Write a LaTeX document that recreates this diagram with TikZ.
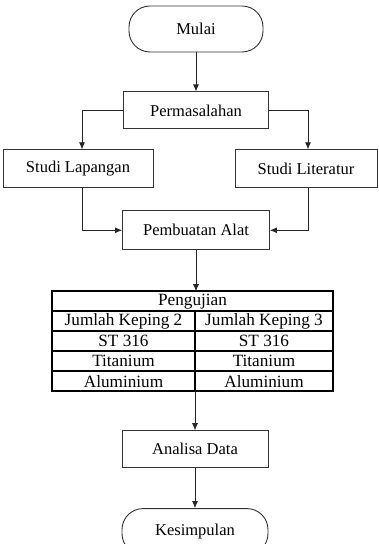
\documentclass[tikz,border=0pt]{standalone}
\usepackage{fontspec}
\setmainfont{Liberation Serif}
\usetikzlibrary{arrows.meta,positioning}
\tikzset{
    x=1pt,y=1pt,node distance =20pt and 20pt,
    flow/.style ={-{Latex[length=7pt,width=6pt]},line width=0.8pt,black!85},
    proc/.style ={rectangle, draw=black!80, line width=0.9pt, minimum height=37pt, inner sep=2pt},
    term/.style ={rectangle, rounded corners=21pt, draw=black!80, line width=0.9pt, minimum height=46pt},
    cell/.style ={rectangle, draw, line width=1.5pt, minimum height=20pt, inner sep=0pt, outer sep=0pt,
        font=\fontsize{17.2}{19}\selectfont}
}
\begin{document}
\begin{tikzpicture}[font=\fontsize{16.5}{19}\selectfont]
    \useasboundingbox (0,0) rectangle (378,544);
    \node[term, minimum width=134pt] (mulai) at (196,515) {Mulai};
    \node[proc, minimum width=145pt] (perm) [below =39pt of mulai] {Permasalahan};
    \node[proc, minimum width=150pt, minimum height=38pt] (lap) [below =20pt of perm, xshift=-118pt] {Studi Lapangan};
    \node[proc, minimum width=142pt, minimum height=38pt] (lit) [below =20pt of perm, xshift=110pt] {Studi Literatur};
    \node[proc, minimum width=147pt, minimum height=39pt] (alat) [below =81pt of perm] {Pembuatan Alat};

    % tabel pengujian
    \node[cell, minimum width=281pt] (uji) [below =41pt of alat, xshift=-3.5pt] {Pengujian};
    \node[cell, minimum width=143pt] (kp2) [below right =0pt of uji.south west] {Jumlah Keping 2};
    \node[cell, minimum width=138pt] (kp3) [right =0pt of kp2] {Jumlah Keping 3};
    \node[cell, minimum width=143pt] (st2) [below =0pt of kp2] {ST 316};
    \node[cell, minimum width=138pt] (st3) [right =0pt of st2] {ST 316};
    \node[cell, minimum width=143pt] (ti2) [below =0pt of st2] {Titanium};
    \node[cell, minimum width=138pt] (ti3) [right =0pt of ti2] {Titanium};
    \node[cell, minimum width=143pt] (al2) [below =0pt of ti2] {Aluminium};
    \node[cell, minimum width=138pt] (al3) [right =0pt of al2] {Aluminium};

    \node[proc, minimum width=146pt] (ana) [below =39pt of al2.south east] {Analisa Data};
    \node[term, minimum width=146pt] (kes) [below =40pt of ana] {Kesimpulan};

    \draw[flow] (mulai) -- (perm);
    \draw[flow] (perm.west) -| ([xshift=4pt]lap.north);
    \draw[flow] (perm.east) -| ([xshift=2pt]lit.north);
    \draw[flow] ([xshift=4pt]lap.south) |- (alat.west);
    \draw[flow] ([xshift=2pt]lit.south) |- (alat.east);
    \draw[flow] (alat.south) -- (alat.south |- uji.north);
    \draw[flow] (al2.south east) -- (ana.north);
    \draw[flow] (ana) -- (kes);
  \end{tikzpicture}
\end{document}
